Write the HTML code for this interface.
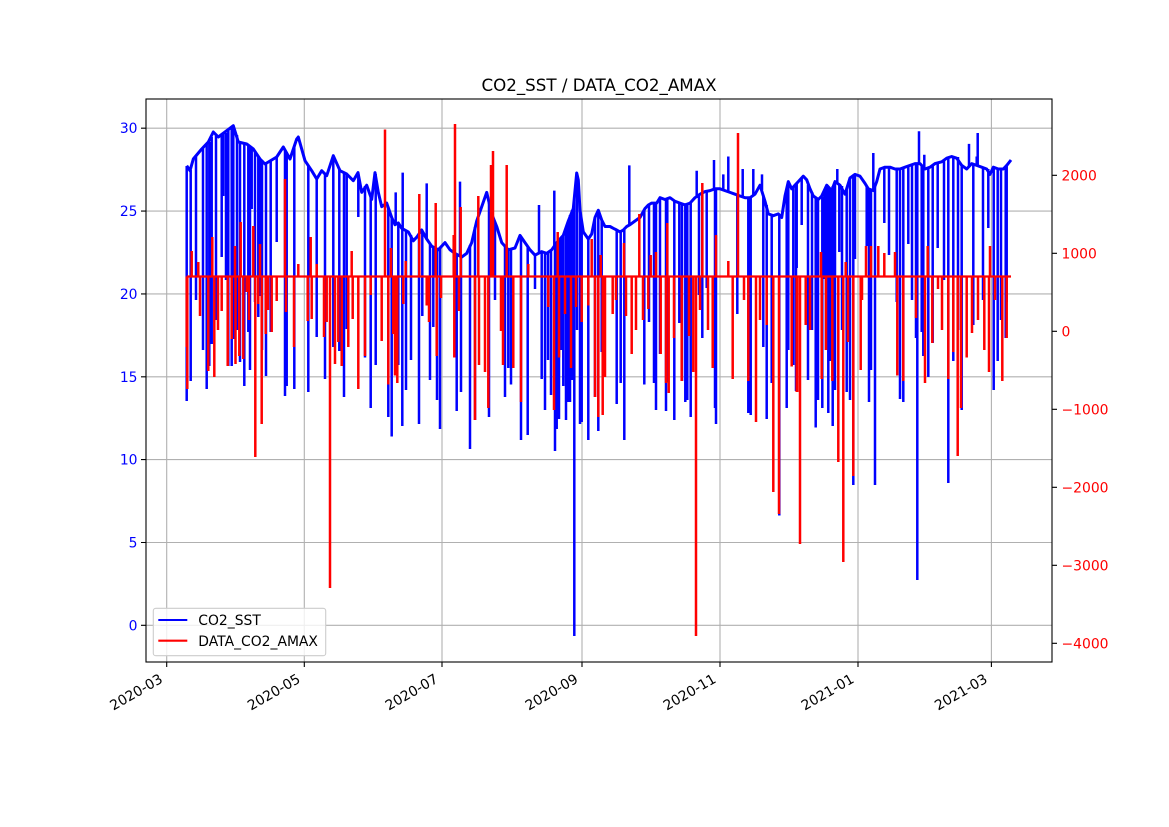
<!DOCTYPE html>
<html><head><meta charset="utf-8"><style>
html,body{margin:0;padding:0;background:#fff;}
svg{display:block;}
text{font-family:"DejaVu Sans","Liberation Sans",sans-serif;}
</style></head><body>
<svg width="1169" height="827" viewBox="0 0 1169 827" xmlns="http://www.w3.org/2000/svg">
<rect x="0" y="0" width="1169" height="827" fill="#fff"/>
<!-- grid -->
<g stroke="#b0b0b0" stroke-width="1.1" fill="none">
<path d="M166.7 99V662 M304.3 99V662 M442 99V662 M582 99V662 M720 99V662 M858 99V662 M991.4 99V662"/>
<path d="M146 625.3H1052 M146 542.5H1052 M146 459.6H1052 M146 376.8H1052 M146 293.9H1052 M146 211.1H1052 M146 128.2H1052"/>
</g>
<!-- blue series -->
<g stroke="#0000ff" fill="none" stroke-linejoin="round">
<polyline stroke-width="3" points="186.7,165.7 190,170.7 193.3,159 201.7,149 208.3,142 213.3,132 218.3,137 225,132 233.3,125.7 238.3,142 246.7,144 253.3,149 260,159 265,164 276.7,157 283.3,147 290,159 296.7,139 298.3,137 305,160.7 311.7,170.7 316.7,179 321.7,170.7 326.7,175.7 333.3,155.7 340,170.7 346.7,174 353.3,180.7 358,172.6 361.7,192.4 366.7,185.2 371.7,199.5 375,172.6 378.3,192.4 381.7,206.7 386.7,203.1 391.7,217.5 395,224.7 398.3,222.9 401.7,228.3 408.3,231.9 413.3,240.8 416.7,237.2 421.7,230 426.7,239 431.7,246.2 438.3,249.8 445,242.6 450,249.8 455,253.4 461.7,257 466.7,253.4 471.7,242.6 476.7,221 481.7,206.7 486.7,192.4 491.7,213.9 496.7,226.5 501.7,242.6 508.3,249.8 515,248 520,235.4 525,242.6 530,249.8 535,255.2 541.7,251.6 546.7,253.4 551.7,249.8 556.7,242.6 563.3,235.4 568.3,221 573.3,208.5 576.7,173 578.3,180 580,210.3 583.3,231.9 588.3,239 591.7,234 595,217.5 598.3,210.3 601.7,220 605,226.5 610,226.5 613.3,228.3 616.7,230 620,231.9 623.3,230 626.7,226.5 630,224.7 635,221 640,217.5 645,208.5 648.3,205 651.7,203.1 656.7,203.1 660,197.7 665,199.5 670,197.7 675,201.3 680,203.1 685,204.9 690,203.1 695,197.7 700,194.2 705,191.6 710,190.6 715,188.8 720,188.8 725,190.6 730,192.4 735,194.2 740,196 745,197.7 750,197.7 755,194.2 760,185.2 765,201.3 768.3,213.9 773.3,215.7 778.3,213.9 781.7,217.5 785,196 788.3,181.6 791.7,188.8 795,185.2 798.3,181.6 803.3,176.2 806.7,179.8 810,188.8 813.3,196 818.3,199.5 821.7,196 826.7,185.2 831.7,190.6 835,181.6 840,185.2 845,194.2 850,178 855,174.4 860,176.2 865,183.4 868.3,188.8 873.3,190.6 876.7,181.6 880,169 885,167.2 890,167.2 895,169 900,169 905,167.2 910,165.4 915,163.6 920,163.6 925,169 930,167.2 935,163.6 941.7,161.8 946.7,158.2 951.7,156.5 956.7,158.2 961.7,165.4 966.7,169 971.7,163.6 976.7,165.4 981.7,167.2 986.7,169 990,174.4 993.3,167.2 998.3,169 1003.3,169 1006.7,165.4 1011,160"/>
<path stroke-width="2.5" d="M186.7 166V401 M190.7 170V381 M206.7 144V389 M209.3 142V366 M211.7 137V344 M221.7 135V257 M223.3 134V196 M228.3 130V366 M231.7 127V366 M233.3 126V339 M240 142V362 M244.3 143V386 M248.3 145V332 M251.7 147V209 M255 151V302 M258.3 156V317 M260 159V296 M266 163V376 M270.7 161V332 M276.7 157V242 M285 150V396 M286.7 152V386 M294.3 145V389 M308.3 165V392 M316.7 179V337 M325 174V379 M333.3 156V347 M339.3 168V351 M344 172V397 M346.7 174V329 M358.3 174V217
M196 155V300 M203 148V350 M216 134V320 M226 133V280 M237 135V330 M250 146V370 M262 160V350
M365 186V357.5 M370.7 197V408 M375.7 174V365 M388.3 208V417 M391.7 217V436.5 M395.7 224V192.4 M398.3 223V365 M402.3 228V426 M402.7 228V172.6 M419 234V424 M422.3 231V316 M426.7 239V183.4 M433.3 247V327 M440 248V429 M456.7 254V411 M460 256V181.6 M461 257V392 M470 245V449 M475 227V420 M489 203V417 M495 222V300 M505 246V397 M508.3 250V368 M511 249V384.5 M521 237V440 M527.7 246V435 M535 255V289 M539 253V205 M541.7 252V379 M554.3 247V190.6 M555 247V451 M556.7 243V429 M559 240V419 M563.3 235V386 M568.3 221V402 M570 215V402 M574.3 200V636 M581.7 220V422
M406 230V390 M411 235V360 M430 244V380 M437 249V400 M545 252V410 M548 253V360 M551 250V395 M561 238V350 M566 228V420 M572 210V380 M577 175V330
M580 210V424 M588.3 239V440 M595 218V397 M598.3 210V431 M601.7 220V352 M616.7 230V404 M620.7 232V383 M624.3 230V440 M629.3 225V165.4 M644.3 209V384.5 M649 204V322 M654 203V383 M656 203V410 M660 198V354 M666 199V411 M667.3 199V382 M674.3 201V420 M679.3 203V323 M682 204V381 M685.3 205V402 M687.3 204V400 M690.7 203V417 M696.7 198V170.8 M699 195V295 M702.3 193V338 M706.7 191V288 M714 189V160 M715 189V408 M716 189V424 M723.3 189V174.4 M728.3 192V156.5 M737.3 195V314 M742.7 197V169 M748.3 198V413 M750.7 198V415 M753.3 196V169 M762 190V174.4 M763.3 195V347 M766.7 205V419 M771.7 215V383 M779.3 214V515.5 M786.7 190V408 M788.3 182V350 M793.3 187V365 M796 185V391
M796.7 184V268 M801.7 178V225 M815.7 197V427.5 M822.3 197V408 M824.3 192V279 M828.3 187V413 M830.7 190V361 M832.7 186V426 M837.3 183V169 M839.3 185V252 M846.7 190V392 M853.3 176V485 M855 175V259 M866.7 186V246 M869 189V402 M871 190V370 M873.3 190V153 M875 185V485 M884.3 168V223 M889 167V255 M896.7 169V302 M900 169V399 M903.3 168V402 M908.3 166V244 M916 164V338 M917.3 164V580 M919 164V131.3 M921.7 165V332 M923.3 167V356 M924.3 167V154.7 M928.3 168V377 M932.7 166V343 M937.7 163V248 M948.3 158V483 M953.3 157V361 M961.7 165V410 M969 167V143.9 M973.3 165V325 M976.7 165V156.5 M977.7 166V133 M988.3 169V228 M993.7 168V390 M997.7 169V361 M1005.7 166V338 M1006.7 165V302
M808 185V380 M812 192V330 M818 199V400 M826 187V350 M835 182V390 M842 186V330 M850 178V400 M912 165V300 M944 160V280 M958 157V330 M983 168V300 M1001 169V320"/>
</g>
<!-- red series -->
<g stroke="#ff0000" fill="none">
<path stroke-width="2.3" d="M186.7 276.5H1011"/>
<path stroke-width="2.5" d="M186.7 276.5V347 M187.3 276.5V389 M191.7 276.5V251 M198.3 276.5V262 M200 276.5V316 M208.3 276.5V371 M212.3 276.5V237 M214.3 276.5V377 M221.7 276.5V311 M227.7 276.5V366 M231.7 276.5V339 M235 276.5V246 M235.5 276.5V364 M239.3 276.5V356 M240.7 276.5V222 M243.3 276.5V359 M246.7 276.5V292 M253.3 276.5V226 M255.3 276.5V457 M258.3 276.5V304 M260 276.5V244 M261.7 276.5V424 M265.7 276.5V334 M271.7 276.5V332 M276.7 276.5V301 M285 276.5V179 M286 276.5V312 M294 276.5V347 M298.3 276.5V264 M307.7 276.5V321 M310.7 276.5V237 M311.7 276.5V319 M316.7 276.5V264 M324 276.5V337 M326.7 276.5V322 M330 276.5V588 M335 276.5V364 M338.3 276.5V342 M341.7 276.5V366 M348.3 276.5V347 M351.7 276.5V251 M352.7 276.5V319 M358.3 276.5V389
M365 276.5V356 M370.7 276.5V295 M381.7 276.5V341 M385 276.5V129.5 M388.3 276.5V384.5 M391 276.5V248 M393.3 276.5V334 M395 276.5V375.5 M397.3 276.5V383 M403.3 276.5V304 M405.7 276.5V261 M419.3 276.5V194 M426.7 276.5V305.5 M429 276.5V322 M435.7 276.5V203 M436.7 276.5V356 M441 276.5V298 M453.7 276.5V235 M454.3 276.5V357.5 M455 276.5V124 M459 276.5V311 M460.7 276.5V207 M475 276.5V420 M478.3 276.5V196 M479 276.5V365 M485 276.5V372 M488.3 276.5V408 M491 276.5V165 M492.3 276.5V180 M493 276.5V151 M501 276.5V331 M503 276.5V365 M506.7 276.5V165 M513.3 276.5V368 M521 276.5V402 M528.3 276.5V264 M548.3 276.5V307 M554 276.5V410 M557.7 276.5V232 M559 276.5V357.5 M565 276.5V314 M571 276.5V368 M576 276.5V307
M581.7 276.5V322 M588.3 276.5V305.5 M591.7 276.5V239 M595 276.5V397 M598.3 276.5V417 M600.7 276.5V255 M602.7 276.5V415 M605 276.5V377 M612.7 276.5V314 M624 276.5V243 M626 276.5V316 M631.7 276.5V354 M639.3 276.5V214 M648.3 276.5V309 M650.7 276.5V255 M656 276.5V252 M660.7 276.5V354 M666 276.5V383 M667.3 276.5V223 M668.7 276.5V393 M674 276.5V338 M681.7 276.5V381 M689 276.5V336 M693.3 276.5V372 M696 276.5V636 M702.3 276.5V183 M712.7 276.5V368 M716 276.5V235 M728.3 276.5V261 M732.7 276.5V379 M738 276.5V133 M748.3 276.5V381 M756 276.5V422 M766.7 276.5V325 M773.3 276.5V492 M779 276.5V514 M791.7 276.5V366.5 M797.3 276.5V392
M796.7 276.5V392 M800 276.5V544 M805.7 276.5V325 M821 276.5V252 M821.7 276.5V379 M832.3 276.5V381 M838.3 276.5V462 M843.3 276.5V562 M845.7 276.5V262 M848 276.5V342 M853.3 276.5V476 M860.7 276.5V370 M866 276.5V246 M871 276.5V246 M878.3 276.5V246 M884.3 276.5V253 M895 276.5V252 M897.3 276.5V375.5 M903.3 276.5V381 M916 276.5V318 M925 276.5V383 M927.7 276.5V246 M932.3 276.5V343 M938 276.5V289 M948.3 276.5V379 M953.3 276.5V352 M957.7 276.5V456 M961 276.5V408 M966.7 276.5V357.5 M972 276.5V333 M984.3 276.5V350 M989 276.5V372 M990 276.5V246 M1002.3 276.5V381 M1006.7 276.5V338
M218 276.5V330 M249 276.5V320 M268 276.5V310 M616 276.5V300 M636 276.5V330 M643 276.5V320 M700 276.5V310 M708 276.5V330 M744 276.5V300 M760 276.5V320 M810 276.5V330 M826 276.5V350 M862 276.5V300 M942 276.5V330 M978 276.5V320 M995 276.5V300"/>
</g>
<!-- spines -->
<rect x="146" y="99" width="906" height="563" fill="none" stroke="#000" stroke-width="1.1"/>
<!-- ticks -->
<g stroke="#000" stroke-width="1.1">
<path d="M166.7 662V667 M304.3 662V667 M442 662V667 M582 662V667 M720 662V667 M858 662V667 M991.4 662V667"/>
<path d="M141 625.3H146 M141 542.5H146 M141 459.6H146 M141 376.8H146 M141 293.9H146 M141 211.1H146 M141 128.2H146"/>
<path d="M1052 175.3H1057 M1052 253.3H1057 M1052 331.3H1057 M1052 409.3H1057 M1052 487.3H1057 M1052 565.3H1057 M1052 643.3H1057"/>
</g>
<!-- left labels -->
<g fill="#0000ff" font-size="13.9" text-anchor="end">
<text x="137.5" y="630.3">0</text>
<text x="137.5" y="547.5">5</text>
<text x="137.5" y="464.6">10</text>
<text x="137.5" y="381.8">15</text>
<text x="137.5" y="298.9">20</text>
<text x="137.5" y="216.1">25</text>
<text x="137.5" y="133.2">30</text>
</g>
<!-- right labels -->
<g fill="#ff0000" font-size="13.9" text-anchor="start">
<text x="1061.5" y="180.3">2000</text>
<text x="1061.5" y="258.3">1000</text>
<text x="1061.5" y="336.3">0</text>
<text x="1061.5" y="414.3">−1000</text>
<text x="1061.5" y="492.3">−2000</text>
<text x="1061.5" y="570.3">−3000</text>
<text x="1061.5" y="648.3">−4000</text>
</g>
<!-- x labels -->
<g fill="#000" font-size="13.9" text-anchor="end">
<text transform="translate(163.7,681.7) rotate(-30)">2020-03</text>
<text transform="translate(301.3,681.7) rotate(-30)">2020-05</text>
<text transform="translate(439,681.7) rotate(-30)">2020-07</text>
<text transform="translate(579,681.7) rotate(-30)">2020-09</text>
<text transform="translate(717,681.7) rotate(-30)">2020-11</text>
<text transform="translate(855,681.7) rotate(-30)">2021-01</text>
<text transform="translate(988.4,681.7) rotate(-30)">2021-03</text>
</g>
<!-- title -->
<text x="599" y="91" font-size="16.7" text-anchor="middle" fill="#000">CO2_SST / DATA_CO2_AMAX</text>
<!-- legend -->
<rect x="153.3" y="608.3" width="172.4" height="47.4" rx="2.5" ry="2.5" fill="#fff" fill-opacity="0.8" stroke="#cccccc" stroke-width="1.1"/>
<path d="M158.3 620H187.3" stroke="#0000ff" stroke-width="2.1"/>
<path d="M158.3 640.7H187.3" stroke="#ff0000" stroke-width="2.1"/>
<text x="198.3" y="625" font-size="13.9" fill="#000">CO2_SST</text>
<text x="198.3" y="646" font-size="13.9" fill="#000">DATA_CO2_AMAX</text>
</svg>
</body></html>
